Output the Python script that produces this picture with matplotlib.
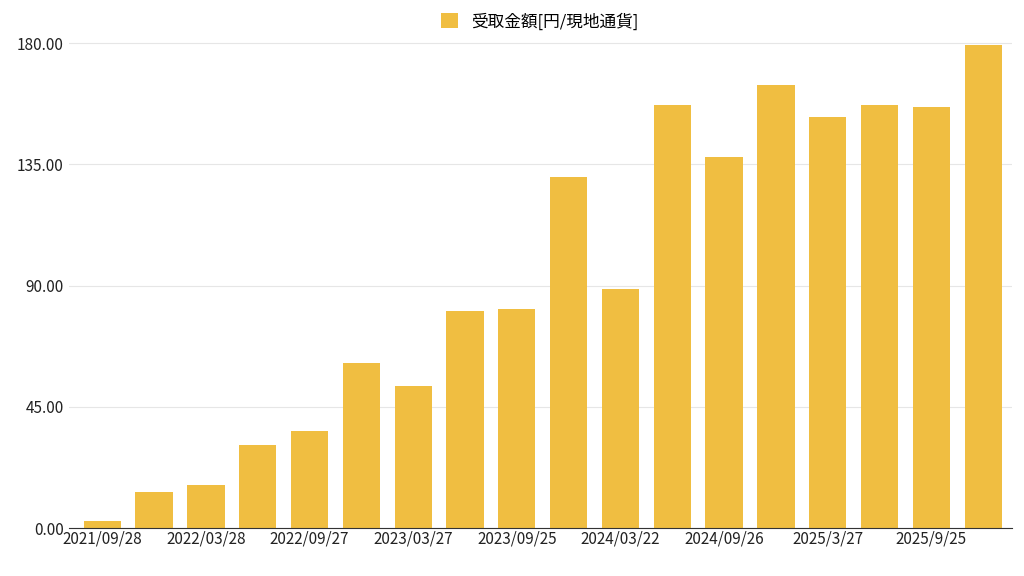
import numpy as np
import matplotlib.pyplot as plt
from matplotlib.ticker import FormatStrFormatter

plt.rcParams['font.family'] = ['Noto Sans CJK JP', 'DejaVu Sans']

# 受取金額 per payout (every second date label is shown on the axis)
dates = ["2021/09/28", "", "2022/03/28", "", "2022/09/27", "", "2023/03/27", "",
         "2023/09/25", "", "2024/03/22", "", "2024/09/26", "", "2025/3/27", "",
         "2025/9/25", ""]
amounts = [2.6, 13.3, 16.2, 31.0, 36.1, 61.2, 52.7, 80.4, 81.5,
           130.2, 88.9, 157.1, 137.6, 164.5, 152.7, 157.1, 156.4, 179.3]
label = "受取金額[円/現地通貨]"

fig, ax = plt.subplots(figsize=(10.24, 5.76), dpi=100)
fig.subplots_adjust(left=0.067, right=0.988, top=0.93, bottom=0.083)

x = np.arange(len(amounts))
ax.bar(x, amounts, width=0.72, color="#F0BE41", label=label, zorder=2)

ax.set_xlim(-0.65, len(amounts) - 0.45)
ax.set_ylim(0, 181)
ax.set_yticks([0, 45, 90, 135, 180])
ax.yaxis.set_major_formatter(FormatStrFormatter("%.2f"))
ax.set_xticks(x)
ax.set_xticklabels(dates)
ax.tick_params(axis="both", length=0, labelsize=11, colors="#222222")
ax.tick_params(axis="x", pad=2)
ax.grid(axis="y", color="#e6e6e6", linewidth=0.8, zorder=0)
for s in ["top", "right", "left"]:
    ax.spines[s].set_visible(False)
ax.spines["bottom"].set_color("#333333")

ax.legend(loc="lower center", bbox_to_anchor=(0.5, 1.0), frameon=False,
          fontsize=12, handlelength=1.0, handleheight=1.0, borderaxespad=0.2)

fig.savefig("out.png")
